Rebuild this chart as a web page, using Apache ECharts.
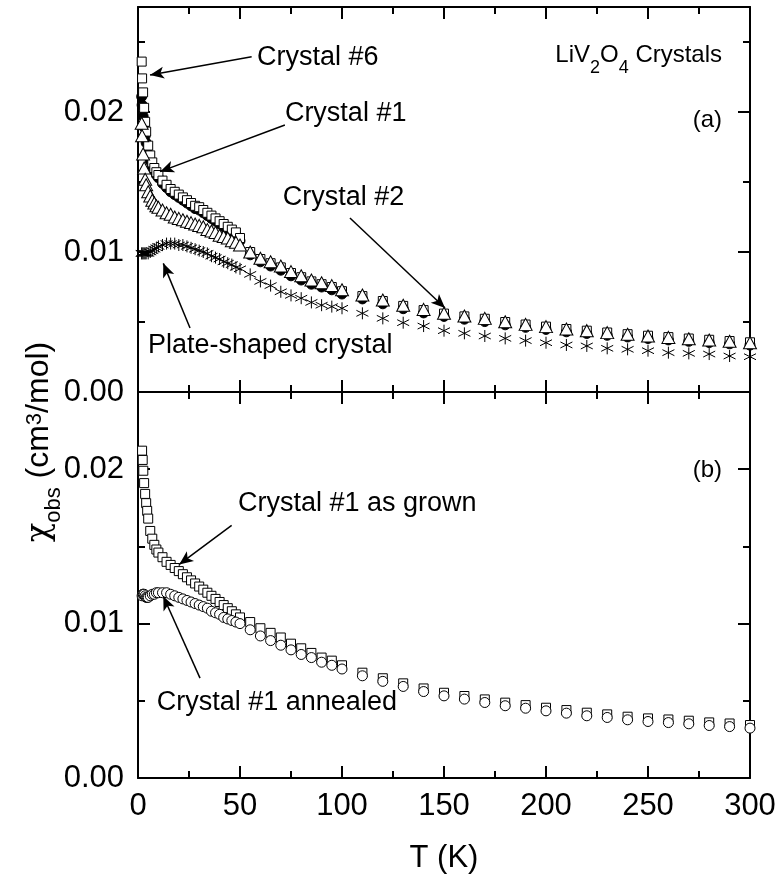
<!DOCTYPE html>
<html>
<head>
<meta charset="utf-8">
<script src="https://cdn.jsdelivr.net/npm/echarts@6/dist/echarts.min.js"></script>
<style>
  html, body { margin: 0; padding: 0; background: #fff; }
  #chart { width: 782px; height: 886px; }
</style>
</head>
<body>
<div id="chart"></div>
<script>
// ---- panel (a) : temperatures (K) ----
const tempsA = [1.8, 2, 2.5, 3, 3.5, 4, 5, 6, 7, 8, 9, 10, 12, 14, 16, 18, 20, 22, 24, 26, 28, 30, 32, 34, 36, 38, 40, 42, 44, 46, 48, 50,
  55, 60, 65, 70, 75, 80, 85, 90, 95, 100, 110, 120, 130, 140, 150, 160, 170, 180, 190, 200, 210, 220, 230, 240, 250, 260, 270, 280, 290, 300];

// Crystal #6 (open squares)
const crystal6 = [0.0236, 0.0224, 0.0214, 0.0203, 0.0193, 0.0186, 0.0176, 0.0169, 0.0164, 0.0160, 0.0157, 0.0155, 0.0151, 0.0148, 0.0145, 0.0143, 0.0141, 0.0139, 0.0137, 0.0135, 0.0133, 0.0132, 0.0130, 0.0128, 0.0126, 0.0124, 0.0122, 0.0120, 0.0118, 0.0116, 0.0114, 0.0110,
  0.0100, 0.0095, 0.0092, 0.0089, 0.0085, 0.0082, 0.0079, 0.0077, 0.0075, 0.0072, 0.00685, 0.0065, 0.00615, 0.00585, 0.0056, 0.0054, 0.00523, 0.0050, 0.00482, 0.00467, 0.0045, 0.00438, 0.00425, 0.00413, 0.00402, 0.00392, 0.00382, 0.00373, 0.00364, 0.00355];

// Crystal #1 (filled circles)
const crystal1 = [0.0211, 0.0205, 0.0197, 0.0189, 0.0183, 0.0178, 0.0170, 0.0165, 0.0161, 0.0158, 0.0155, 0.0153, 0.0149, 0.0146, 0.0143, 0.0141, 0.0139, 0.0137, 0.0135, 0.0133, 0.0131, 0.0130, 0.0128, 0.0126, 0.0124, 0.0122, 0.0120, 0.0118, 0.0116, 0.0114, 0.0112, 0.0108,
  0.0098, 0.0093, 0.0090, 0.0087, 0.0083, 0.0080, 0.0077, 0.0075, 0.0073, 0.0070, 0.00665, 0.0063, 0.00595, 0.00565, 0.0054, 0.0052, 0.00503, 0.0048, 0.00462, 0.00447, 0.0043, 0.00418, 0.00405, 0.00393, 0.00382, 0.00372, 0.00362, 0.00353, 0.00344, 0.00335];

// Crystal #2 (open triangles)
const crystal2 = [0.0192, 0.0183, 0.0170, 0.0160, 0.0152, 0.0148, 0.0143, 0.0140, 0.0137, 0.0135, 0.0133, 0.0132, 0.0130, 0.0128, 0.0127, 0.0125, 0.0124, 0.0123, 0.0122, 0.0121, 0.0120, 0.0119, 0.0118, 0.0116, 0.0115, 0.0114, 0.0112, 0.0111, 0.0110, 0.0108, 0.0107, 0.0105,
  0.0100, 0.00955, 0.0093, 0.0090, 0.0086, 0.0083, 0.0080, 0.0078, 0.0076, 0.0073, 0.00693, 0.00657, 0.0062, 0.0059, 0.00562, 0.00543, 0.00526, 0.00502, 0.00483, 0.00467, 0.0045, 0.00438, 0.00424, 0.00412, 0.0040, 0.0039, 0.0038, 0.00371, 0.00362, 0.00352];

// Plate-shaped crystal (asterisks)
const plate = [0.0099, 0.0099, 0.0099, 0.0099, 0.0099, 0.0099, 0.0099, 0.0100, 0.0101, 0.0102, 0.0103, 0.0104, 0.0105, 0.0106, 0.0106, 0.0106, 0.0105, 0.0105, 0.0104, 0.0103, 0.0102, 0.0101, 0.0100, 0.0099, 0.0097, 0.0096, 0.0095, 0.0093, 0.0092, 0.0091, 0.0089, 0.0088,
  0.0084, 0.0079, 0.0076, 0.00716, 0.0069, 0.0067, 0.0064, 0.0062, 0.0061, 0.00598, 0.00562, 0.00526, 0.00495, 0.00471, 0.00438, 0.00419, 0.0040, 0.00383, 0.00367, 0.00352, 0.00336, 0.00329, 0.00312, 0.00305, 0.00295, 0.00281, 0.00276, 0.00271, 0.00257, 0.00252];

// ---- panel (b) ----
const tempsB = [2, 2.3, 2.6, 3, 3.5, 4, 4.5, 5, 6, 7, 8, 9, 10, 12, 14, 16, 18, 20, 22, 24, 26, 28, 30, 32, 34, 36, 38, 40, 42, 44, 46, 48, 50,
  55, 60, 65, 70, 75, 80, 85, 90, 95, 100, 110, 120, 130, 140, 150, 160, 170, 180, 190, 200, 210, 220, 230, 240, 250, 260, 270, 280, 290, 300];

// Crystal #1 as grown (open squares)
const asGrown = [0.0212, 0.0206, 0.0199, 0.0191, 0.0184, 0.0178, 0.0173, 0.0168, 0.0160, 0.0155, 0.0151, 0.0148, 0.0146, 0.0143, 0.0140, 0.0138, 0.0136, 0.0134, 0.0132, 0.0130, 0.0128, 0.0126, 0.0124, 0.0122, 0.0120, 0.0118, 0.0116, 0.0114, 0.0112, 0.0110, 0.0108, 0.0106, 0.0104,
  0.0101, 0.0097, 0.0094, 0.0091, 0.0087, 0.0084, 0.0081, 0.0078, 0.0076, 0.0073, 0.00682, 0.00646, 0.00613, 0.0058, 0.00552, 0.00531, 0.00509, 0.00488, 0.00472, 0.00455, 0.0044, 0.00423, 0.00412, 0.00397, 0.00386, 0.00379, 0.00371, 0.0036, 0.00353, 0.00343];

// Crystal #1 annealed (open circles)
const annealed = [0.0118, 0.0119, 0.0119, 0.0119, 0.0118, 0.0117, 0.0117, 0.0117, 0.0118, 0.0119, 0.0119, 0.0120, 0.0120, 0.0120, 0.0120, 0.0119, 0.0118, 0.0117, 0.0116, 0.0115, 0.0114, 0.0113, 0.0112, 0.0111, 0.0110, 0.0108, 0.0107, 0.0106, 0.0104, 0.0103, 0.0102, 0.0101, 0.0100,
  0.0096, 0.0092, 0.0089, 0.0086, 0.0083, 0.0080, 0.0078, 0.0075, 0.0073, 0.00706, 0.00662, 0.00626, 0.00593, 0.0056, 0.00532, 0.00511, 0.00489, 0.00468, 0.00452, 0.00435, 0.0042, 0.00403, 0.00392, 0.00377, 0.00366, 0.00359, 0.00351, 0.0034, 0.00333, 0.00323];

// annotation texts [T, chi] (left anchored) and arrows [from, to]
const notesA = [
  { text: 'Crystal #6', at: [58.3, 0.0239] },
  { text: 'Crystal #1', at: [72, 0.0199] },
  { text: 'Crystal #2', at: [71, 0.0139] },
  { text: 'Plate-shaped crystal', at: [4.9, 0.0033] }
];
const arrowsA = [
  [[55.7, 0.02395], [5.9, 0.02264]],
  [[72, 0.01907], [10.8, 0.01574]],
  [[103.9, 0.01243], [150.5, 0.0060]],
  [[25.5, 0.00457], [12.4, 0.00919]]
];
const notesB = [
  { text: 'Crystal #1 as grown', at: [49, 0.0178] },
  { text: 'Crystal #1 annealed', at: [9.2, 0.0049] }
];
const arrowsB = [
  [[45.9, 0.01636], [20.2, 0.01383]],
  [[30.4, 0.00647], [12.4, 0.01177]]
];

const FONT = 'Liberation Sans, Arial, Helvetica, sans-serif';
const chart = echarts.init(document.getElementById('chart'));

const pair = (xs, ys) => xs.map((x, i) => [x, ys[i]]);
const black = '#000';

function xAxisFor(grid, pos, showLabel) {
  return {
    gridIndex: grid, type: 'value', position: pos, min: 0, max: 300, interval: 50,
    axisLine: { show: true, onZero: false, lineStyle: { color: black, width: 2 } },
    axisTick: { show: true, inside: true, length: 12, lineStyle: { color: black, width: 2 } },
    minorTick: { show: true, splitNumber: 2, length: 7, lineStyle: { color: black, width: 2 } },
    axisLabel: { show: showLabel, fontSize: 31, fontFamily: FONT, color: black, margin: 13 },
    splitLine: { show: false }
  };
}
function yAxisFor(grid, pos, max, minor, showLabel) {
  return {
    gridIndex: grid, type: 'value', position: pos, min: 0, max: max, interval: minor ? 0.005 : 0.01,
    axisLine: { show: !minor, onZero: false, lineStyle: { color: black, width: 2 } },
    axisTick: { show: true, inside: true, length: minor ? 7 : 12, lineStyle: { color: black, width: 2 } },
    axisLabel: { show: showLabel, showMaxLabel: false, fontSize: 31, fontFamily: FONT, color: black, margin: 14,
      formatter: v => v.toFixed(2) },
    splitLine: { show: false }
  };
}

const asterisk = 'path://M0,-10L0,10M-8.66,-5L8.66,5M-8.66,5L8.66,-5';

function arrowLine(list) {
  return {
    silent: true, symbol: ['none', 'arrow'], symbolSize: [9, 14], animation: false,
    label: { show: false },
    lineStyle: { color: black, width: 1.5, type: 'solid', opacity: 1 },
    emphasis: { disabled: true },
    data: list.map(a => [{ coord: a[0] }, { coord: a[1] }])
  };
}

const noteLabel = { show: true, position: 'right', distance: 0, fontSize: 27, fontFamily: FONT, color: black, formatter: '{b}' };
const sub = { fontSize: 18, fontFamily: FONT, color: black, verticalAlign: 'top', padding: [15, 0, 0, 0] };
const main = { fontSize: 24, fontFamily: FONT, color: black, verticalAlign: 'top', lineHeight: 28 };
const openStyle = { color: '#fff', borderColor: black, borderWidth: 1, opacity: 1 };

const option = {
  animation: false,
  backgroundColor: '#fff',
  grid: [
    { left: 138, top: 7, width: 612, height: 385 },
    { left: 138, top: 392, width: 612, height: 386 }
  ],
  xAxis: [
    xAxisFor(0, 'bottom', false), xAxisFor(0, 'top', false),
    xAxisFor(1, 'bottom', true), xAxisFor(1, 'top', false)
  ],
  yAxis: [
    yAxisFor(0, 'left', 0.0275, false, true), yAxisFor(0, 'left', 0.0275, true, false),
    yAxisFor(0, 'right', 0.0275, false, false), yAxisFor(0, 'right', 0.0275, true, false),
    yAxisFor(1, 'left', 0.025, false, true), yAxisFor(1, 'left', 0.025, true, false),
    yAxisFor(1, 'right', 0.025, false, false), yAxisFor(1, 'right', 0.025, true, false)
  ],
  series: [
    { name: 'Crystal #1', type: 'scatter', xAxisIndex: 0, yAxisIndex: 0, symbol: 'circle', symbolSize: 10,
      itemStyle: { color: black, borderColor: black, borderWidth: 1, opacity: 1 }, data: pair(tempsA, crystal1) },
    { name: 'Crystal #6', type: 'scatter', xAxisIndex: 0, yAxisIndex: 0, symbol: 'rect', symbolSize: 9,
      itemStyle: openStyle, data: pair(tempsA, crystal6) },
    { name: 'Crystal #2', type: 'scatter', xAxisIndex: 0, yAxisIndex: 0, symbol: 'triangle', symbolSize: [13, 12],
      itemStyle: openStyle, data: pair(tempsA, crystal2) },
    { name: 'Plate-shaped crystal', type: 'scatter', xAxisIndex: 0, yAxisIndex: 0, symbol: asterisk, symbolSize: 12,
      itemStyle: { color: 'none', borderColor: black, borderWidth: 1, opacity: 1 }, data: pair(tempsA, plate),
      markLine: arrowLine(arrowsA),
      markPoint: {
        silent: true, symbol: 'circle', symbolSize: 0, animation: false,
        label: noteLabel,
        data: notesA.map(n => ({ name: n.text, coord: n.at })).concat([
          { name: 'LiV2O4', coord: [286.3, 0.0237],
            label: { position: 'left', distance: 0, formatter: '{m|LiV}{s|2}{m|O}{s|4}{m| Crystals}', rich: { m: main, s: sub } } },
          { name: '(a)', coord: [286.3, 0.0194], label: { position: 'left', distance: 0, fontSize: 24, formatter: '(a)' } }
        ])
      } },
    { name: 'Crystal #1 as grown', type: 'scatter', xAxisIndex: 2, yAxisIndex: 4, symbol: 'rect', symbolSize: 9,
      itemStyle: openStyle, data: pair(tempsB, asGrown) },
    { name: 'Crystal #1 annealed', type: 'scatter', xAxisIndex: 2, yAxisIndex: 4, symbol: 'circle', symbolSize: 10,
      itemStyle: openStyle, data: pair(tempsB, annealed),
      markLine: arrowLine(arrowsB),
      markPoint: {
        silent: true, symbol: 'circle', symbolSize: 0, animation: false,
        label: noteLabel,
        data: notesB.map(n => ({ name: n.text, coord: n.at })).concat([
          { name: '(b)', coord: [286.3, 0.0199], label: { position: 'left', distance: 0, fontSize: 24, formatter: '(b)' } }
        ])
      } }
  ],
  graphic: [
    { type: 'text', x: 44, y: 442, rotation: Math.PI / 2, silent: true,
      style: { text: '{c|χ}{s|obs}{m| (cm}{p|3}{m|/mol)}', align: 'center', verticalAlign: 'middle',
        rich: {
          c: { fontSize: 32, fontFamily: 'DejaVu Serif, DejaVu Sans, serif', color: black, verticalAlign: 'top', lineHeight: 37 },
          m: { fontSize: 32, fontFamily: FONT, color: black, verticalAlign: 'top', lineHeight: 37 },
          s: { fontSize: 22, fontFamily: FONT, color: black, verticalAlign: 'top', padding: [19, 0, 0, 0] },
          p: { fontSize: 22, fontFamily: FONT, color: black, verticalAlign: 'top', lineHeight: 22 }
        } } },
    { type: 'text', x: 444, y: 858, silent: true,
      style: { text: 'T (K)', align: 'center', verticalAlign: 'middle', fontSize: 31, fontFamily: FONT, fill: black } }
  ]
};
chart.setOption(option);
</script>
</body>
</html>
